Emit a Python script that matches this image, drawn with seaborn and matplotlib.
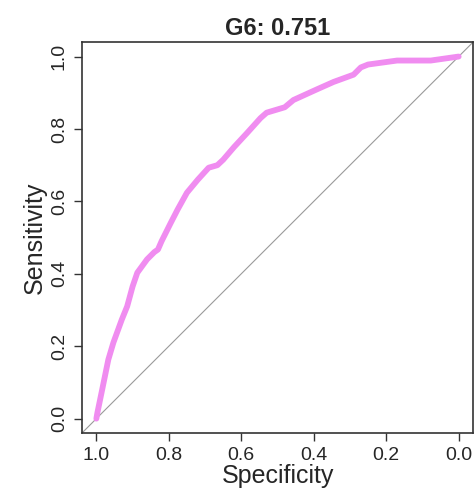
import numpy as np
import pandas as pd
import matplotlib
matplotlib.use("Agg")
import matplotlib.pyplot as plt
import seaborn as sns

title = "G6: 0.751"
specificity = [1.0, 0.997, 0.984, 0.967, 0.953, 0.93, 0.915, 0.90, 0.887, 0.86, 0.84, 0.83,
               0.82, 0.795, 0.776, 0.75, 0.72, 0.69, 0.666, 0.65, 0.62, 0.583, 0.547,
               0.53, 0.48, 0.456, 0.39, 0.345, 0.29, 0.27, 0.25, 0.17, 0.077, 0.0]
sensitivity = [0.0, 0.017, 0.08, 0.163, 0.21, 0.273, 0.31, 0.365, 0.403, 0.44, 0.46, 0.467,
               0.49, 0.54, 0.577, 0.624, 0.66, 0.693, 0.70, 0.715, 0.75, 0.79, 0.83,
               0.845, 0.86, 0.88, 0.91, 0.93, 0.95, 0.97, 0.978, 0.989, 0.989, 1.0]
ticks = [1.0, 0.8, 0.6, 0.4, 0.2, 0.0]
tick_labels = ["1.0", "0.8", "0.6", "0.4", "0.2", "0.0"]

df = pd.DataFrame({"Specificity": specificity, "Sensitivity": sensitivity})

sns.set_style("ticks")
plt.rcParams['font.family'] = ['Liberation Sans', 'DejaVu Sans']

fig = plt.figure(figsize=(4.76, 4.95), dpi=100)
ax = fig.add_axes([0.172, 0.125, 0.822, 0.79])

ax.axline((1, 0), (0, 1), color="#9a9a9a", lw=0.8, zorder=1)
sns.lineplot(data=df, x="Specificity", y="Sensitivity", sort=False, ax=ax,
             color="#F08CF0", lw=4.2, zorder=2, estimator=None)

ax.set_xlim(1.04, -0.04)
ax.set_ylim(-0.04, 1.04)
ax.set_xticks(ticks)
ax.set_xticklabels(tick_labels, fontsize=14)
ax.set_yticks(ticks)
ax.set_yticklabels(tick_labels, fontsize=14, rotation=90, va="center")
ax.tick_params(direction="out", length=6, width=1, color="#333333", pad=4)
for s in ax.spines.values():
    s.set_color("#333333")
    s.set_linewidth(1.2)
ax.set_xlabel("Specificity", fontsize=18, labelpad=0)
ax.set_ylabel("Sensitivity", fontsize=18, labelpad=3)
ax.set_title(title, fontsize=17, fontweight="bold", pad=5)

fig.savefig("out.png", dpi=100)
